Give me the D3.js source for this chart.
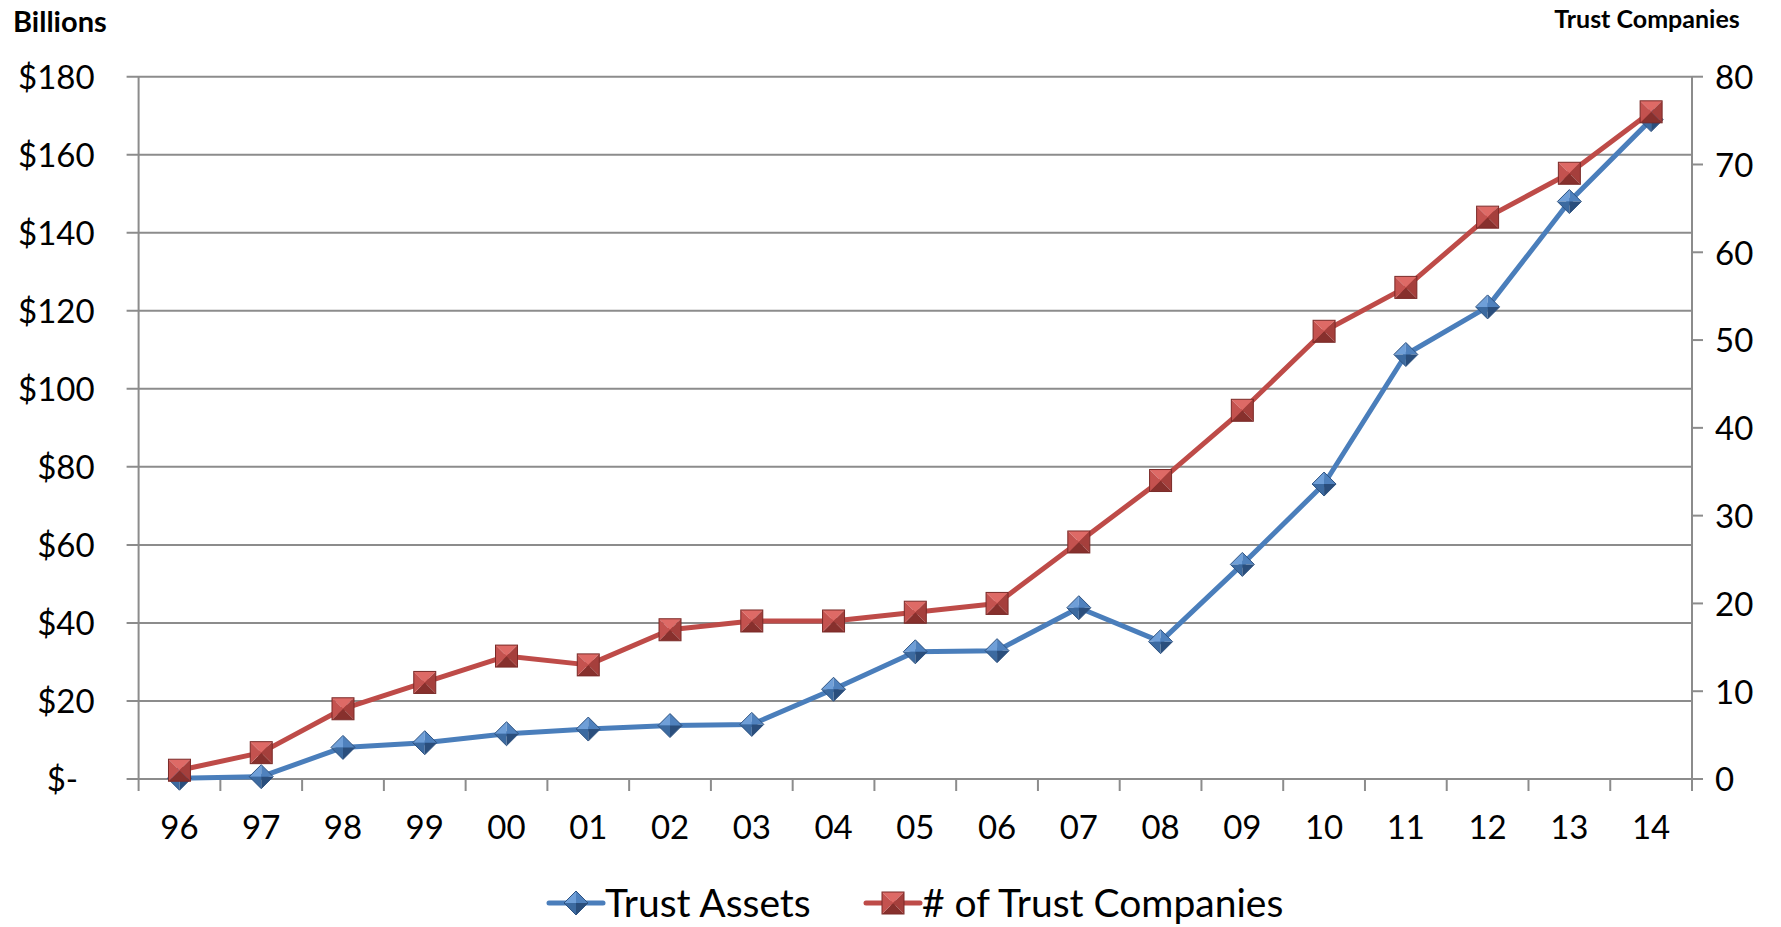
<!DOCTYPE html>
<html>
<head>
<meta charset="utf-8">
<script src="https://cdn.jsdelivr.net/npm/d3@7"></script>
<style>
  body { margin: 0; background: #fff; }
  svg { display: block; }
  text { font-family: Lato, "Open Sans", sans-serif; fill: #000; }
</style>
</head>
<body>
<div id="chart"></div>
<script>
// chart data
var years = ["96", "97", "98", "99", "00", "01", "02", "03", "04", "05",
             "06", "07", "08", "09", "10", "11", "12", "13", "14"];
var trustAssets = [0.2, 0.6, 8.1, 9.3, 11.6, 12.8, 13.7, 14.0, 23.0, 32.6,
                   32.9, 43.9, 35.2, 55.0, 75.6, 108.8, 121.0, 148.0, 169.0];
var trustCompanies = [1, 3, 8, 11, 14, 13, 17, 18, 18, 19,
                      20, 27, 34, 42, 51, 56, 64, 69, 76];
var leftTicks = [0, 20, 40, 60, 80, 100, 120, 140, 160, 180];
var leftTickLabels = ["$-\u2002", "$20", "$40", "$60", "$80", "$100", "$120", "$140", "$160", "$180"];
var rightTicks = [0, 10, 20, 30, 40, 50, 60, 70, 80];
var seriesNames = ["Trust Assets", "# of Trust Companies"];

function init() {
    var w = 1781, h = 927;
    var margin = { top: 76.7, right: 89, bottom: 148, left: 138.6 };
    var blue = "#4a7ebb", red = "#be4b48", axisGrey = "#8c8c8c";

    var svg = d3.select("#chart").append("svg")
        .attr("width", w)
        .attr("height", h);

    var x = d3.scaleBand().domain(years).range([margin.left, w - margin.right]);
    var yL = d3.scaleLinear().domain([0, 180]).range([h - margin.bottom, margin.top]);
    var yR = d3.scaleLinear().domain([0, 80]).range([h - margin.bottom, margin.top]);
    var x0 = margin.left, x1 = w - margin.right, yb = h - margin.bottom;

    // gridlines (with the left tick stub)
    svg.append("g").selectAll("line")
        .data(leftTicks)
        .join("line")
        .attr("x1", x0 - 12).attr("x2", x1)
        .attr("y1", d => yL(d)).attr("y2", d => yL(d))
        .attr("stroke", axisGrey).attr("stroke-width", 2);

    // left & right axis lines
    svg.append("line").attr("x1", x0).attr("x2", x0).attr("y1", yL(180)).attr("y2", yb)
        .attr("stroke", axisGrey).attr("stroke-width", 2);
    svg.append("line").attr("x1", x1).attr("x2", x1).attr("y1", yR(80)).attr("y2", yb)
        .attr("stroke", axisGrey).attr("stroke-width", 2);

    // right axis ticks
    svg.append("g").selectAll("line")
        .data(rightTicks)
        .join("line")
        .attr("x1", x1).attr("x2", x1 + 11)
        .attr("y1", d => yR(d)).attr("y2", d => yR(d))
        .attr("stroke", axisGrey).attr("stroke-width", 2);

    // x ticks at the category boundaries
    var bounds = years.map(d => x(d)).concat([x1]);
    svg.append("g").selectAll("line")
        .data(bounds)
        .join("line")
        .attr("x1", d => d).attr("x2", d => d)
        .attr("y1", yb).attr("y2", yb + 12)
        .attr("stroke", axisGrey).attr("stroke-width", 2);

    // axis labels via d3 axes
    var leftAxis = svg.append("g")
        .attr("transform", `translate(${x0 - 44},0)`)
        .call(d3.axisLeft(yL).tickValues(leftTicks).tickSize(0)
            .tickFormat((d, i) => leftTickLabels[i]));
    var rightAxis = svg.append("g")
        .attr("transform", `translate(${x1 + 11},0)`)
        .call(d3.axisRight(yR).tickValues(rightTicks).tickSize(0).tickPadding(12));
    var bottomAxis = svg.append("g")
        .attr("transform", `translate(0,${yb + 36})`)
        .call(d3.axisBottom(x).tickSize(0).tickPadding(0));

    [leftAxis, rightAxis, bottomAxis].forEach(a => {
        a.select(".domain").remove();
        a.selectAll("text")
            .style("font-family", "Lato, sans-serif")
            .style("font-size", "33px")
            .attr("fill", "#000");
    });
    leftAxis.selectAll("text").attr("x", 0).attr("dy", "0.36em");
    rightAxis.selectAll("text").attr("dy", "0.36em");
    bottomAxis.selectAll("text").attr("dy", "0.36em").attr("y", 12);

    // axis titles
    svg.append("text").attr("x", 13).attr("y", 32)
        .style("font-size", "29px").style("font-weight", "bold").text("Billions");
    svg.append("text").attr("x", 1647).attr("y", 28).attr("text-anchor", "middle")
        .style("font-size", "25px").style("font-weight", "bold").text("Trust Companies");

    // bevelled markers
    function diamond(g, s) {
        var faces = [
            [[0, -s], [-s, 0], [0, 0], "#6f9fd8"],
            [[0, -s], [s, 0], [0, 0], "#4f81bd"],
            [[-s, 0], [0, s], [0, 0], "#3c6aa0"],
            [[s, 0], [0, s], [0, 0], "#2a4e7c"]
        ];
        faces.forEach(f => g.append("path")
            .attr("d", `M${f[0]}L${f[1]}L${f[2]}Z`).attr("fill", f[3]));
        g.append("path").attr("d", `M0,${-s}L${s},0L0,${s}L${-s},0Z`)
            .attr("fill", "none").attr("stroke", "#2d5281").attr("stroke-width", 1);
    }
    function square(g, s) {
        var faces = [
            [[-s, -s], [s, -s], "#de6a66"],
            [[s, -s], [s, s], "#a53f3c"],
            [[s, s], [-s, s], "#87302d"],
            [[-s, s], [-s, -s], "#c4524f"]
        ];
        faces.forEach(f => g.append("path")
            .attr("d", `M${f[0]}L${f[1]}L0,0Z`).attr("fill", f[2]));
        g.append("rect").attr("x", -s).attr("y", -s).attr("width", 2 * s).attr("height", 2 * s)
            .attr("fill", "none").attr("stroke", "#7a2a28").attr("stroke-width", 1);
    }

    var cx = d => x(d) + x.bandwidth() / 2;
    var series = [
        { values: trustAssets, y: yL, color: blue, marker: diamond, size: 12 },
        { values: trustCompanies, y: yR, color: red, marker: square, size: 11 }
    ];

    series.forEach(s => {
        var line = d3.line().x((d, i) => cx(years[i])).y(d => s.y(d));
        svg.append("path").datum(s.values)
            .attr("d", line)
            .attr("fill", "none")
            .attr("stroke", s.color)
            .attr("stroke-width", 5)
            .attr("stroke-linejoin", "round");
        svg.append("g").selectAll("g")
            .data(s.values)
            .join("g")
            .attr("transform", (d, i) => `translate(${cx(years[i])},${s.y(d)})`)
            .each(function() { s.marker(d3.select(this), s.size); });
    });

    // legend
    var legendY = 903;
    var legendItems = [
        { name: seriesNames[0], lx: 549, color: blue, marker: diamond, size: 12 },
        { name: seriesNames[1], lx: 866, color: red, marker: square, size: 11 }
    ];
    legendItems.forEach(it => {
        var g = svg.append("g");
        g.append("line").attr("x1", it.lx).attr("x2", it.lx + 54)
            .attr("y1", legendY).attr("y2", legendY)
            .attr("stroke", it.color).attr("stroke-width", 5).attr("stroke-linecap", "round");
        var m = g.append("g").attr("transform", `translate(${it.lx + 27},${legendY})`);
        it.marker(m, it.size);
        g.append("text").attr("x", it.lx + 56).attr("y", legendY).attr("dy", "0.36em")
            .style("font-size", "39px").text(it.name);
    });
}

window.onload = init;
</script>
</body>
</html>
